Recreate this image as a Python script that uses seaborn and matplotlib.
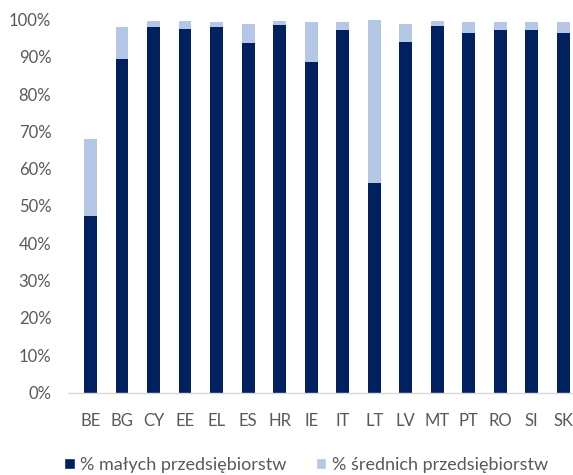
import pandas as pd
import matplotlib.pyplot as plt
import seaborn as sns
from matplotlib.patches import Patch
from matplotlib.ticker import PercentFormatter

# values (share of firms, %)
countries = ["BE", "BG", "CY", "EE", "EL", "ES", "HR", "IE",
             "IT", "LT", "LV", "MT", "PT", "RO", "SI", "SK"]
small_pct = [47.4, 89.5, 97.9, 97.4, 98.1, 93.6, 98.4, 88.5,
             97.1, 56.1, 94.0, 98.2, 96.4, 97.1, 97.2, 96.4]
total_pct = [68.0, 98.1, 99.5, 99.5, 99.4, 98.7, 99.5, 99.2,
             99.4, 99.8, 98.7, 99.6, 99.3, 99.3, 99.3, 99.2]

dark = "#002060"
light = "#B4C7E7"
grey = "#595959"

df = pd.DataFrame({"kraj": countries,
                   "small": [v / 100 for v in small_pct],
                   "total": [v / 100 for v in total_pct]})

sns.set_style("white")
plt.rcParams["font.family"] = ["Lato", "DejaVu Sans"]

fig = plt.figure(figsize=(5.73, 4.75), dpi=100)
ax = fig.add_axes([68 / 573, 82.5 / 475, 505 / 573, 373 / 475])

# light bar = small + medium, dark bar drawn on top
sns.barplot(data=df, x="kraj", y="total", color=light, width=0.4,
            saturation=1, linewidth=0, ax=ax)
sns.barplot(data=df, x="kraj", y="small", color=dark, width=0.4,
            saturation=1, linewidth=0, ax=ax)

ax.set_ylim(0, 1)
ax.set_xlim(-0.72, 15.31)
ax.set_yticks([i / 10 for i in range(11)])
ax.yaxis.set_major_formatter(PercentFormatter(1.0, decimals=0))
ax.set_xlabel("")
ax.set_ylabel("")
ax.tick_params(axis="both", length=0, labelsize=12, colors=grey)
ax.tick_params(axis="x", pad=15)
ax.tick_params(axis="y", pad=12)

for s in ["top", "right", "left"]:
    ax.spines[s].set_visible(False)
ax.spines["bottom"].set_color("#D9D9D9")
ax.spines["bottom"].set_linewidth(1)

handles = [Patch(facecolor=dark, label="% małych przedsiębiorstw"),
           Patch(facecolor=light, label="% średnich przedsiębiorstw")]
fig.legend(handles=handles, loc="center", bbox_to_anchor=(306 / 573, 1 - 465 / 475),
           ncol=2, frameon=False, fontsize=13, handlelength=0.6, handleheight=0.6,
           handletextpad=0.3, columnspacing=1.6, labelcolor=grey)

fig.savefig("out.png", dpi=100)
